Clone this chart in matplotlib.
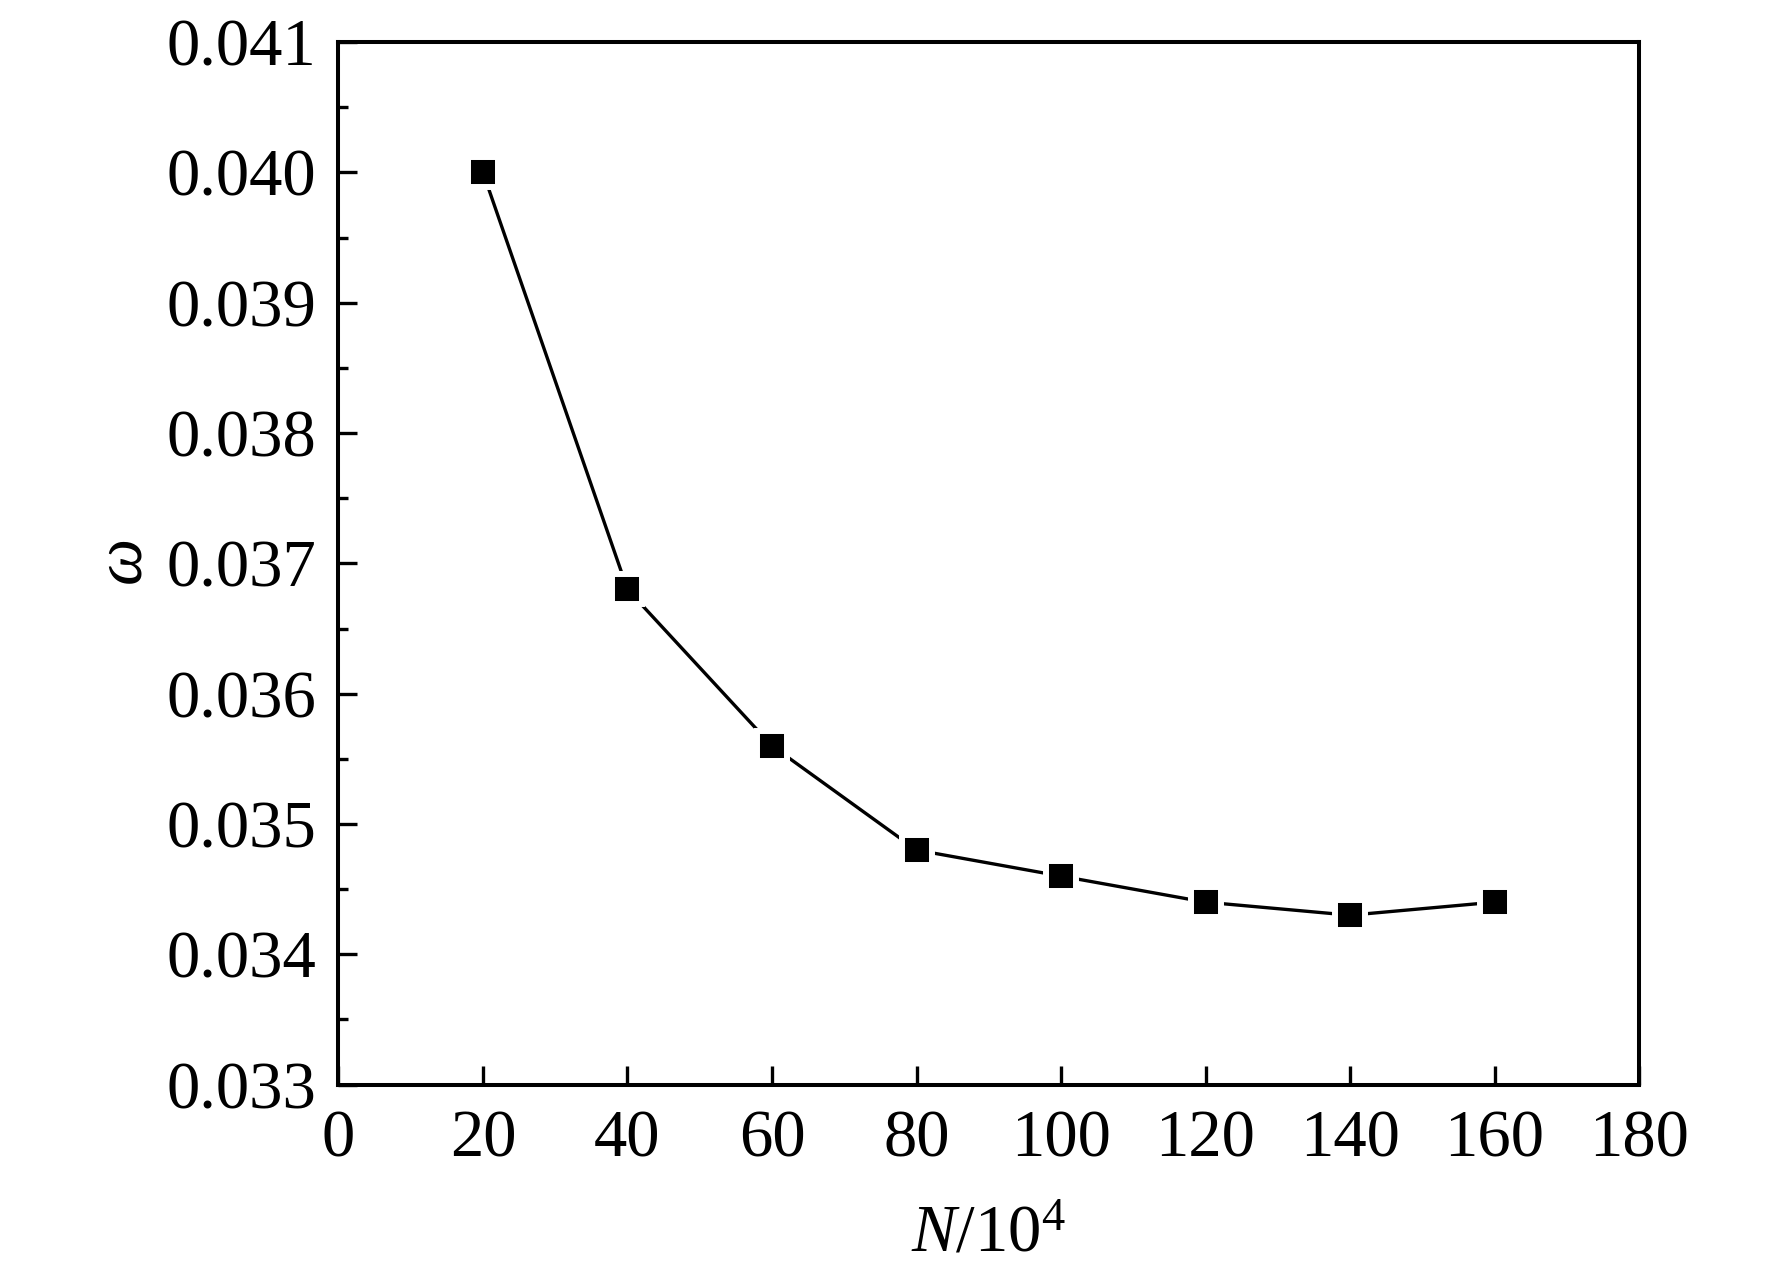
import numpy as np
import matplotlib
matplotlib.use("Agg")
import matplotlib.pyplot as plt
from matplotlib.ticker import MultipleLocator, FormatStrFormatter

# data
N = [20, 40, 60, 80, 100, 120, 140, 160]
omega = [0.0400, 0.0368, 0.0356, 0.0348, 0.0346, 0.0344, 0.0343, 0.0344]

plt.rcParams['font.family'] = 'Liberation Serif'
plt.rcParams['mathtext.fontset'] = 'custom'
plt.rcParams['mathtext.rm'] = 'Liberation Serif'
plt.rcParams['mathtext.it'] = 'Liberation Serif:italic'

fig = plt.figure(figsize=(17.72, 12.76), dpi=100)
ax = fig.add_axes([0.191, 0.150, 0.734, 0.817])

ax.plot(N, omega, color='black', lw=2.4, marker='s', markersize=21,
        markerfacecolor='black', markeredgecolor='white', markeredgewidth=4.3)

ax.set_xlim(0, 180)
ax.set_ylim(0.033, 0.041)
ax.xaxis.set_major_locator(MultipleLocator(20))
ax.yaxis.set_major_locator(MultipleLocator(0.001))
ax.yaxis.set_minor_locator(MultipleLocator(0.0005))
ax.yaxis.set_major_formatter(FormatStrFormatter('%.3f'))

for s in ax.spines.values():
    s.set_linewidth(2.9)

ax.tick_params(axis='both', which='major', direction='in', length=13.5, width=2.4,
               labelsize=48, top=False, right=False)
ax.tick_params(axis='y', which='minor', direction='in', length=7, width=2.4, right=False)
ax.tick_params(axis='x', which='major', pad=18)
ax.tick_params(axis='y', which='major', pad=16)

ax.set_xlabel(r'$N$/10$^4$', fontsize=48, labelpad=24)
ax.set_ylabel(r'$\omega$', fontsize=48, labelpad=8)

fig.savefig("out.png", dpi=100)
